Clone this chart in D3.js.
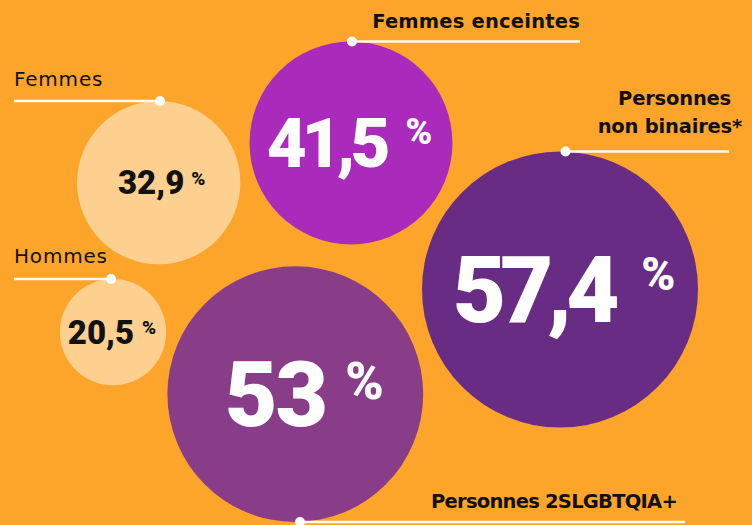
<!DOCTYPE html>
<html>
<head>
<meta charset="utf-8">
<script src="https://cdn.jsdelivr.net/npm/d3@7/dist/d3.min.js"></script>
<style>
  html, body { margin: 0; padding: 0; background: #FDA42B; }
  svg { display: block; }
</style>
</head>
<body>
<svg id="chart" width="752" height="525"></svg>
<script>
// ---- data ----
const categories = ["Femmes", "Hommes", "Femmes enceintes", "Personnes non binaires*", "Personnes 2SLGBTQIA+"];
const values = [32.9, 20.5, 41.5, 57.4, 53];
const colors = ["#FDD08F", "#FDD08F", "#AA2BBB", "#692C84", "#893C88"];

// ---- layout (positions / styles) ----
const layout = [
  { cx: 158.7, ax: 160, ay: 101, side: "top", lx0: 14, lx1: 160,
    lines: ["Femmes"], tx: [14], ty: [86], anchor: "start", weight: 400, lls: 0.8,
    numSize: 33, pctSize: 19, gap: 7, ls: 0, ndx: 3, numColor: "#111" },
  { cx: 113, ax: 111, ay: 279, side: "top", lx0: 14, lx1: 111,
    lines: ["Hommes"], tx: [14], ty: [263], anchor: "start", weight: 400, lls: 0.8,
    numSize: 33, pctSize: 19, gap: 8, ls: 0, ndx: -1, numColor: "#111" },
  { cx: 351, ax: 352, ay: 41.5, side: "top", lx0: 352, lx1: 580,
    lines: ["Femmes enceintes"], tx: [580], ty: [28], anchor: "end", weight: 700, lls: 0.2,
    numSize: 69, pctSize: 36, gap: 12, ls: -5, ndx: -1.5, numColor: "#fff" },
  { cx: 560, ax: 565.5, ay: 151.5, side: "top", lx0: 565.5, lx1: 729,
    lines: ["Personnes", "non binaires*"], tx: [731, 742], ty: [105, 133], anchor: "end", weight: 700, lls: -0.2,
    numSize: 92, pctSize: 46, gap: 18, ls: -6, ndx: 4, numColor: "#fff" },
  { cx: 295.3, ax: 300, ay: 522, side: "bottom", lx0: 300, lx1: 685,
    lines: ["Personnes 2SLGBTQIA+"], tx: [431], ty: [508], anchor: "start", weight: 700, lls: -0.75,
    numSize: 91, pctSize: 52, gap: 17, ls: -2, ndx: 9, numColor: "#fff" }
];

const W = 752, H = 525;
const svg = d3.select("#chart");
svg.append("rect").attr("width", W).attr("height", H).attr("fill", "#FDA42B");

const r = d3.scaleLinear().domain([0, 60]).range([6, 144]);
const fmt = d3.formatLocale({ decimal: ",", thousands: " ", grouping: [3], currency: ["", " €"] }).format(".3~r");

const items = values.map((v, i) => {
  const L = layout[i];
  const rad = r(v);
  const cy = L.side === "top" ? L.ay + rad : L.ay - rad;
  return { name: categories[i], value: v, color: colors[i], rad, cy, ...L };
});

// circles
svg.selectAll("circle.bubble").data(items).join("circle")
  .attr("class", "bubble")
  .attr("cx", d => d.cx).attr("cy", d => d.cy).attr("r", d => d.rad)
  .attr("fill", d => d.color);

// leader lines + dots
svg.selectAll("line.leader").data(items).join("line")
  .attr("class", "leader")
  .attr("x1", d => d.lx0).attr("x2", d => d.lx1)
  .attr("y1", d => d.ay).attr("y2", d => d.ay)
  .attr("stroke", "#FFFAF2").attr("stroke-width", 2.6);
svg.selectAll("circle.dot").data(items).join("circle")
  .attr("class", "dot")
  .attr("cx", d => d.ax).attr("cy", d => d.ay).attr("r", 5)
  .attr("fill", "#fff");

// category labels
items.forEach(d => {
  d.lines.forEach((t, j) => {
    svg.append("text")
      .attr("x", d.tx[j]).attr("y", d.ty[j])
      .attr("text-anchor", d.anchor)
      .attr("font-family", "'DejaVu Sans', sans-serif")
      .attr("font-weight", d.weight)
      .attr("font-size", d.weight === 700 ? 19.5 : 20)
      .attr("letter-spacing", d.lls)
      .attr("fill", "#111")
      .text(t);
  });
});

// values
items.forEach(d => {
  const g = svg.append("g");
  const base = d.numSize * 0.355;
  const num = g.append("text")
    .attr("x", 0).attr("y", base)
    .attr("font-family", "Roboto, sans-serif")
    .attr("font-weight", 900)
    .attr("font-size", d.numSize)
    .attr("letter-spacing", d.ls)
    .attr("fill", d.numColor)
    .text(fmt(d.value));
  const bb = num.node().getBBox();
  const numW = bb.width - d.ls;
  const digitH = d.numSize * 0.711;
  const pct = g.append("text")
    .attr("x", numW + d.gap)
    .attr("y", base - digitH + d.pctSize * 0.72)
    .attr("font-family", "Roboto, sans-serif")
    .attr("font-weight", 900)
    .attr("font-size", d.pctSize)
    .attr("fill", d.numColor)
    .text("%");
  const pw = pct.node().getBBox().width;
  const total = numW + d.gap + pw;
  g.attr("transform", `translate(${d.cx + d.ndx - total / 2},${d.cy})`);
});
</script>
</body>
</html>
